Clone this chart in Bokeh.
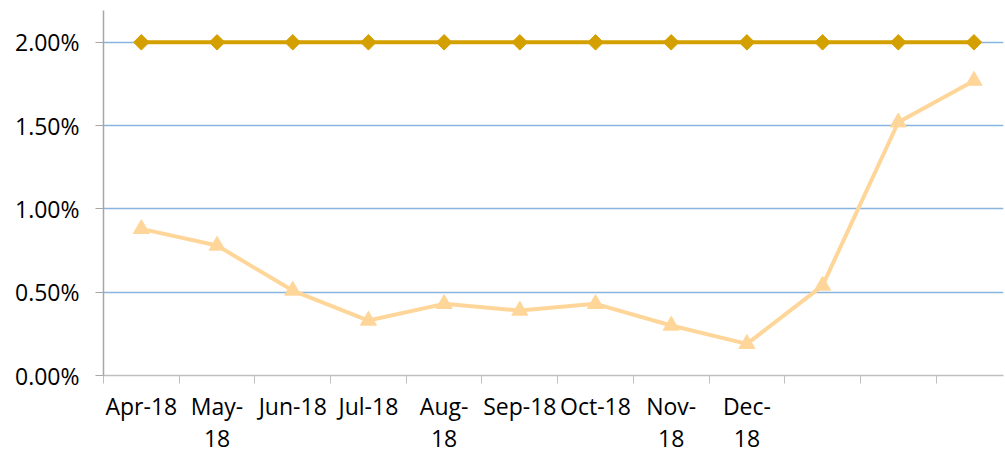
import math
from bokeh.plotting import figure
from bokeh.models import FixedTicker, NumeralTickFormatter, Range1d
from bokeh.embed import file_html
from bokeh.resources import INLINE

months = ["Apr-18", "May-\n18", "Jun-18", "Jul-18", "Aug-\n18", "Sep-18", "Oct-18",
          "Nov-\n18", "Dec-\n18", "", "", ""]
target = [0.02] * 12
actual = [0.0088, 0.0078, 0.0051, 0.0033, 0.0043, 0.0039, 0.0043, 0.0030, 0.0019,
          0.0054, 0.0152, 0.0177]
y_ticks = [0.0, 0.005, 0.01, 0.015, 0.02]

xs = list(range(len(months)))

p = figure(width=1005, height=457, output_backend="svg", toolbar_location=None,
           x_range=Range1d(-0.5, 11.39), y_range=Range1d(0, 0.02191),
           min_border_left=103, min_border_right=2, min_border_top=10, min_border_bottom=80)
p.outline_line_color = None
p.background_fill_color = "white"

# y axis
p.yaxis.ticker = FixedTicker(ticks=y_ticks)
p.yaxis.formatter = NumeralTickFormatter(format="0.00%")
p.yaxis.axis_line_color = "#a6a6a6"
p.yaxis.axis_line_width = 1.5
p.yaxis.major_tick_line_color = "#a6a6a6"
p.yaxis.major_tick_out = 8
p.yaxis.major_tick_in = 0
p.yaxis.minor_tick_line_color = None
p.yaxis.major_label_text_font = "Open Sans"
p.yaxis.major_label_text_font_size = "23px"
p.yaxis.major_label_text_color = "#000000"
p.yaxis.major_label_standoff = 16

# x axis
p.xaxis.ticker = FixedTicker(ticks=xs, minor_ticks=[i - 0.5 for i in range(13)])
p.xaxis.major_label_overrides = {i: m for i, m in enumerate(months)}
p.xaxis.axis_line_color = "#bfbfbf"
p.xaxis.axis_line_width = 1.5
p.xaxis.major_tick_line_color = None
p.xaxis.major_tick_out = 0
p.xaxis.major_tick_in = 0
p.xaxis.minor_tick_line_color = "#bfbfbf"
p.xaxis.minor_tick_out = 8
p.xaxis.minor_tick_in = 0
p.xaxis.major_label_text_font = "Open Sans"
p.xaxis.major_label_text_font_size = "23px"
p.xaxis.major_label_text_color = "#000000"
p.xaxis.major_label_text_line_height = 1.02
p.xaxis.major_label_standoff = 6

p.xgrid.grid_line_color = None
p.ygrid.ticker = FixedTicker(ticks=y_ticks[1:])
p.ygrid.grid_line_color = "#8ab4e0"
p.ygrid.grid_line_width = 1.5

p.line(xs, target, line_color="#d4a000", line_width=4)
p.scatter(xs, target, marker="square", size=11, angle=math.pi / 4,
          fill_color="#d4a000", line_color="#d4a000")

p.line(xs, actual, line_color="#ffd699", line_width=4)
p.scatter(xs, actual, marker="triangle", size=16, fill_color="#ffd699", line_color="#ffd699")

open("out.html", "w").write(file_html(p, INLINE))
